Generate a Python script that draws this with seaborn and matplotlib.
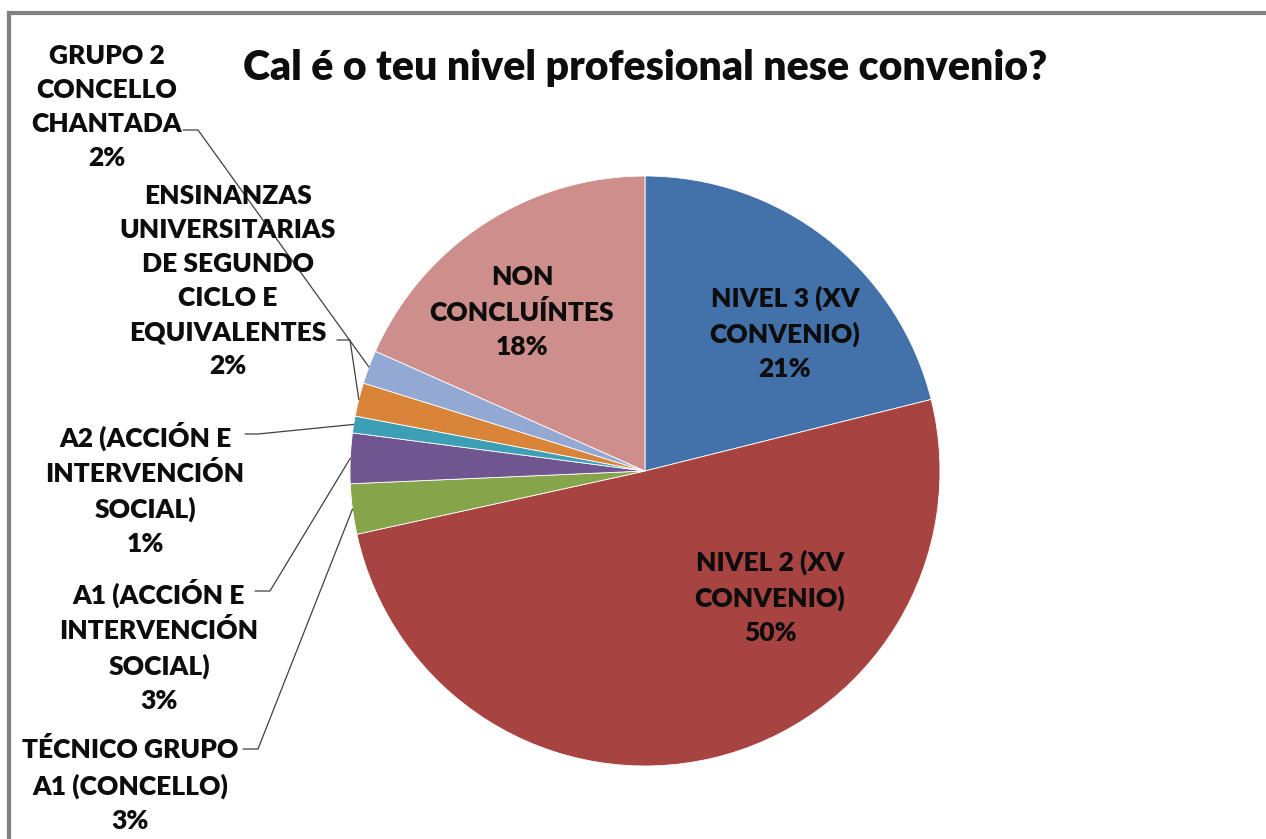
import matplotlib
matplotlib.use("Agg")
import matplotlib.pyplot as plt
import seaborn as sns
import numpy as np

# Datos (respostas estimadas a partir do gráfico)
categorias = [
    "NIVEL 3 (XV\nCONVENIO)",
    "NIVEL 2 (XV\nCONVENIO)",
    "TÉCNICO GRUPO\nA1 (CONCELLO)",
    "A1 (ACCIÓN E\nINTERVENCIÓN\nSOCIAL)",
    "A2 (ACCIÓN E\nINTERVENCIÓN\nSOCIAL)",
    "ENSINANZAS\nUNIVERSITARIAS\nDE SEGUNDO\nCICLO E\nEQUIVALENTES",
    "GRUPO 2\nCONCELLO\nCHANTADA",
    "NON\nCONCLUÍNTES",
]
respostas = [23, 55, 3, 3, 1, 2, 2, 20]
cores = ["#4371A9", "#A74442", "#86A44A", "#6F5690", "#3D9FB6",
         "#DA843A", "#93A8D2", "#CE8E8C"]
titulo = "Cal é o teu nivel profesional nese convenio?"

sns.set_theme(style="white")
plt.rcParams["font.family"] = ["Lato", "DejaVu Sans"]

W, H = 1266, 839
fig = plt.figure(figsize=(W / 100, H / 100), dpi=100)
ax = fig.add_axes([0, 0, 1, 1])


def py(y):
    # coordenadas en píxeles desde arriba
    return H - y


cx, cy, r = 645, py(471), 295
wedges, _ = ax.pie(respostas, colors=sns.color_palette(cores), startangle=90,
                   counterclock=False, center=(cx, cy), radius=r,
                   wedgeprops=dict(edgecolor="white", linewidth=0.6),
                   frame=True)
ax.set_xlim(0, W)
ax.set_ylim(0, H)
ax.set_aspect("equal")
ax.axis("off")

total = sum(respostas)
etiquetas = [f"{c}\n{round(100 * v / total)}%" for c, v in zip(categorias, respostas)]

txt = dict(fontsize=19, fontweight="heavy", ha="center", va="center",
           linespacing=1.5, color="#0d0d0d")

# etiquetas dentro
dentro = {0: (785, 333), 1: (770, 597), 7: (522, 312)}
for i, (x, y) in dentro.items():
    ax.text(x, py(y), etiquetas[i], **txt)

# etiquetas fóra con liña guía: (centro texto, inicio liña, fin tramo horizontal)
fora = {
    6: ((107, 107), (183, 130), (198, 130)),
    5: ((228, 281), (337, 340), (350, 340)),
    4: ((145, 489), (245, 434), (258, 434)),
    3: ((159, 646), (255, 591), (270, 591)),
    2: ((130, 785), (243, 749), (258, 749)),
}
for i, ((tx, ty), (x0, y0), (x1, y1)) in fora.items():
    ax.text(tx, py(ty), etiquetas[i], **txt)
    w = wedges[i]
    ang = np.deg2rad((w.theta1 + w.theta2) / 2)
    ax_, ay_ = cx + r * np.cos(ang), cy + r * np.sin(ang)
    ax.plot([x0, x1, ax_], [py(y0), py(y1), ay_], color="#404040", lw=0.9,
            solid_joinstyle="miter")

ax.text(645, py(68), titulo, fontsize=29.5, fontweight="heavy", ha="center",
        va="center", color="#0d0d0d")

# marco
ax.plot([9, 9, W], [0, py(13), py(13)], color="#808080", lw=3,
        solid_joinstyle="miter", clip_on=False)

fig.savefig("out.png", dpi=100)
